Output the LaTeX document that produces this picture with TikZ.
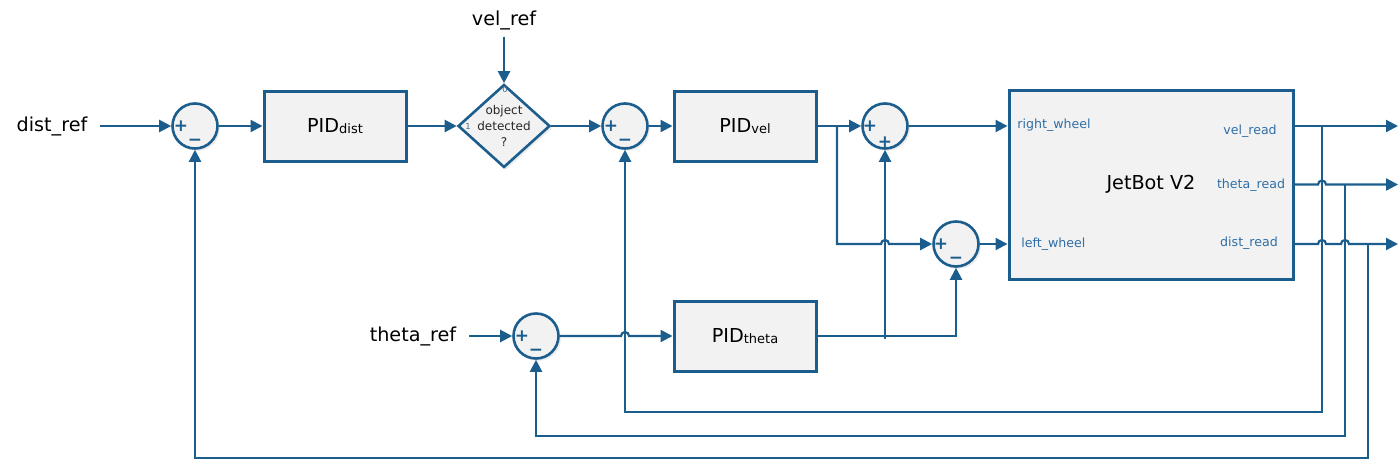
\documentclass[tikz,border=0pt]{standalone}
\usepackage{fontspec}
\setmainfont{DejaVu Sans}
\usetikzlibrary{arrows.meta,shapes.geometric,shadows}
\definecolor{linecol}{HTML}{1B5E8E}
\definecolor{portcol}{HTML}{2F6EA5}
\definecolor{boxfill}{HTML}{F2F2F2}
\definecolor{tinycol}{HTML}{4A6A8A}
\tikzset{
  arr/.style={draw=linecol, line width=1.1pt, -{Triangle[length=6pt,width=6pt]}},
  shad/.style={drop shadow={shadow xshift=1.2pt, shadow yshift=-1.2pt, opacity=.15}},
  pidbox/.style={draw=linecol, fill=boxfill, line width=1.5pt, shad,
    minimum width=71pt, minimum height=35pt, font=\fontsize{9.6}{11}\selectfont},
  sumj/.style={circle, draw=linecol, fill=boxfill, line width=1.3pt, shad,
    minimum size=22.5pt, inner sep=0pt},
  sgn/.style={text=linecol, font=\fontsize{8.5}{9}\selectfont\bfseries, inner sep=0pt},
  lbl/.style={font=\fontsize{9.6}{11}\selectfont},
  portlbl/.style={text=portcol, font=\fontsize{6.3}{7}\selectfont, inner sep=0pt},
}
\newcommand{\sub}[1]{{\fontsize{6.5}{7}\selectfont\raisebox{-0.7pt}{#1}}}
\begin{document}
\begin{tikzpicture}[x=0.5pt,y=0.5pt]
\useasboundingbox (0,0) rectangle (1400,462);
% references
\node[lbl] (distref) at (52,336) {dist\_ref};
\node[lbl] (velref) at (504,442) {vel\_ref};
\node[lbl] (thetaref) at (413,126) {theta\_ref};
% blocks
\node[sumj] (s1) at (195,336) {};
\node[sgn] (s1p) at ([xshift=-7pt]s1.center) {+};
\node[sgn] (s1m) at ([yshift=-8pt]s1.center) {−};
\node[pidbox] (piddist) at (335,336) {PID\sub{dist}};
\node[diamond, draw=linecol, fill=boxfill, line width=1.3pt, shad, inner sep=0pt,
  minimum width=46pt, minimum height=41.5pt] (obj) at (504,336) {};
\node[align=center, font=\fontsize{6}{8}\selectfont, text=black!85] (objtxt) at (504,336) {object\\detected\\?};
\node[text=tinycol, font=\fontsize{4.2}{5}\selectfont, inner sep=0pt] (obj0) at (505,373) {0};
\node[text=tinycol, font=\fontsize{4.2}{5}\selectfont, inner sep=0pt] (obj1) at (468,336) {1};
\node[sumj] (s2) at (625,336) {};
\node[sgn] (s2p) at ([xshift=-7pt]s2.center) {+};
\node[sgn] (s2m) at ([yshift=-8pt]s2.center) {−};
\node[pidbox] (pidvel) at (745,336) {PID\sub{vel}};
\node[sumj] (s3) at (885,336) {};
\node[sgn] (s3p) at ([xshift=-7.5pt]s3.center) {+};
\node[sgn] (s3q) at ([yshift=-8pt]s3.center) {+};
\node[sumj] (s4) at (956,218) {};
\node[sgn] (s4p) at ([xshift=-7.5pt]s4.center) {+};
\node[sgn] (s4m) at ([yshift=-8pt]s4.center) {−};
\node[sumj] (s5) at (536,126) {};
\node[sgn] (s5p) at ([xshift=-7pt]s5.center) {+};
\node[sgn] (s5m) at ([yshift=-8pt]s5.center) {−};
\node[pidbox] (pidtheta) at (745,126) {PID\sub{theta}};
\node[draw=linecol, fill=boxfill, line width=1.5pt, shad, minimum width=142pt, minimum height=94.5pt,
  font=\fontsize{9.6}{11}\selectfont] (jetbot) at (1151,277.5) {JetBot V2};
\node[portlbl, anchor=west] (rwl) at (1017,337) {right\_wheel};
\node[portlbl, anchor=west] (lwl) at (1021,218) {left\_wheel};
\node[portlbl] (vrl) at (1250,331) {vel\_read};
\node[portlbl] (trl) at (1251,277) {theta\_read};
\node[portlbl] (drl) at (1249,219) {dist\_read};
% forward path
\draw[arr] ([xshift=3pt]distref.east) -- (s1);
\draw[arr] (s1) -- (piddist);
\draw[arr] (piddist) -- (obj);
\draw[arr] (velref) -- (obj);
\draw[arr] (obj) -- (s2);
\draw[arr] (s2) -- (pidvel);
\draw[arr] (pidvel) -- (s3);
\coordinate (br) at (837,336);
\draw[arr] (br) -- (837,218) -- (881,218) arc[start angle=180,end angle=0,radius=4] -- (s4);
\coordinate (rw) at (jetbot.west |- s3);
\coordinate (lw) at (jetbot.west |- s4);
\draw[arr] (s3) -- (rw);
\draw[arr] (s4) -- (lw);
\draw[arr] ([xshift=3pt]thetaref.east) -- (s5);
\draw[arr] (s5) -- (621,126) arc[start angle=180,end angle=0,radius=4] -- (pidtheta);
\draw[arr] (pidtheta) -| (s4);
\coordinate (jn) at (885,123);
\draw[arr] (jn) -- (s3);
% outputs
\coordinate (velrd) at (jetbot.east |- s3);
\coordinate (thrd) at (jetbot.east);
\coordinate (dsrd) at (jetbot.east |- s4);
\coordinate (velout) at (1398,336);
\coordinate (thout) at (1398,277.5);
\coordinate (dsout) at (1398,218);
\draw[arr] (velrd) -- (velout);
\draw[arr] (thrd) -- (1318,277.5) arc[start angle=180,end angle=0,radius=4] -- (thout);
\draw[arr] (dsrd) -- (1318,218) arc[start angle=180,end angle=0,radius=4]
  -- (1341,218) arc[start angle=180,end angle=0,radius=4] -- (dsout);
% feedback
\coordinate (tap1) at (1322,336);
\coordinate (tap2) at (1345,277.5);
\coordinate (tap3) at (1368,218);
\draw[arr] (tap1) -- (1322,50) -| (s2);
\draw[arr] (tap2) -- (1345,26) -| (s5);
\draw[arr] (tap3) -- (1368,4) -| (s1);
\end{tikzpicture}
\end{document}
